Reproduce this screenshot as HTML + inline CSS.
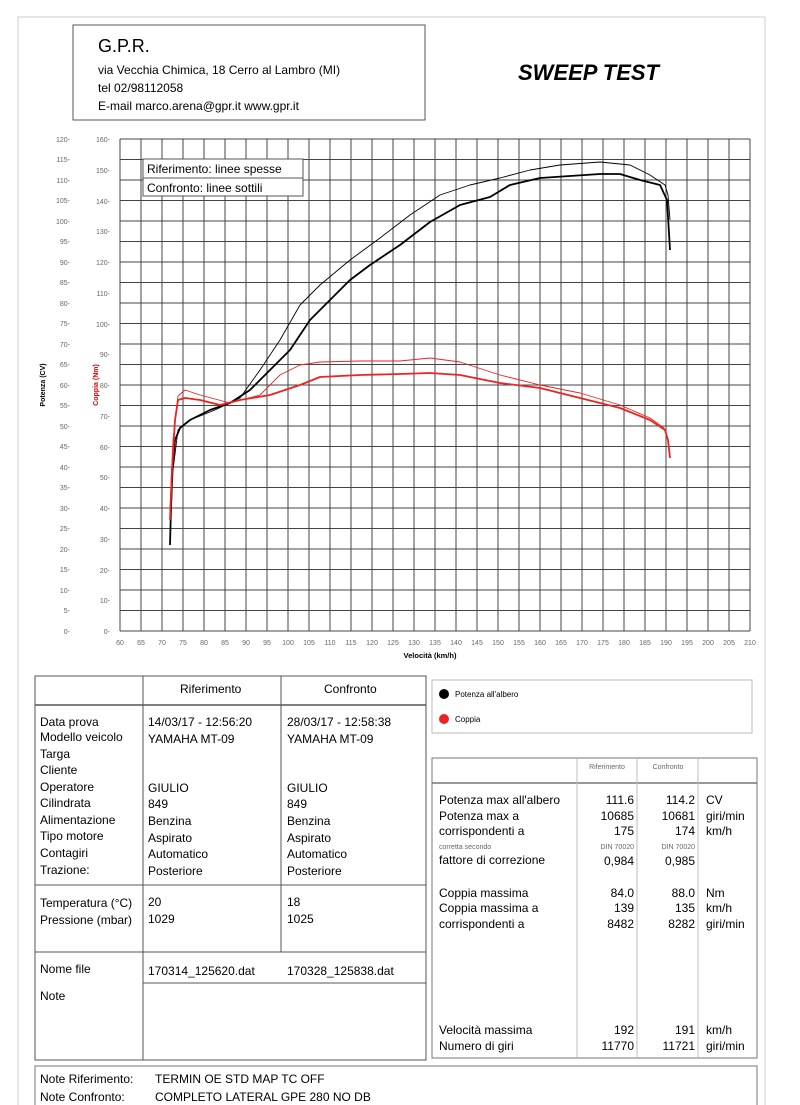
<!DOCTYPE html>
<html><head><meta charset="utf-8"><style>
body{margin:0;background:#fff;}
svg{display:block;font-family:"Liberation Sans","DejaVu Sans",sans-serif;}
.t{font-size:12px;fill:#000;}
.tk{font-size:7px;fill:#666;}
</style></head><body>
<svg width="800" height="1105" viewBox="0 0 800 1105" xmlns="http://www.w3.org/2000/svg">
<rect x="18" y="17" width="747" height="1100" fill="none" stroke="#ccc"/>
<!-- header -->
<rect x="73" y="25" width="352" height="95" fill="#fff" stroke="#555"/>
<text x="98" y="52" font-size="18" fill="#000">G.P.R.</text>
<text x="98" y="74" class="t" font-size="11">via Vecchia Chimica, 18 Cerro al Lambro (MI)</text>
<text x="98" y="92" class="t" font-size="11">tel 02/98112058</text>
<text x="98" y="110" class="t" font-size="11">E-mail marco.arena@gpr.it  www.gpr.it</text>
<text x="518" y="80" font-size="22" font-weight="bold" font-style="italic" fill="#000">SWEEP TEST</text>
<!-- grid -->
<g stroke="#444" stroke-width="1">
<path id="g" d="
M120 139H750M120 159.5H750M120 180H750M120 200.5H750M120 221H750M120 241.5H750M120 262H750M120 282.5H750M120 303H750M120 323.5H750M120 344H750M120 364.5H750M120 385H750M120 405.5H750M120 426H750M120 446.5H750M120 467H750M120 487.5H750M120 508H750M120 528.5H750M120 549H750M120 569.5H750M120 590H750M120 610.5H750M120 631H750
M120 139V631M141 139V631M162 139V631M183 139V631M204 139V631M225 139V631M246 139V631M267 139V631M288 139V631M309 139V631M330 139V631M351 139V631M372 139V631M393 139V631M414 139V631M435 139V631M456 139V631M477 139V631M498 139V631M519 139V631M540 139V631M561 139V631M582 139V631M603 139V631M624 139V631M645 139V631M666 139V631M687 139V631M708 139V631M729 139V631M750 139V631"/>
</g>
<!-- left labels -->
<g class="tk" text-anchor="end">
<text x="70" y="142">120-</text><text x="70" y="162">115-</text><text x="70" y="183">110-</text><text x="70" y="203">105-</text><text x="70" y="224">100-</text><text x="70" y="244">95-</text><text x="70" y="265">90-</text><text x="70" y="285">85-</text><text x="70" y="306">80-</text><text x="70" y="326">75-</text><text x="70" y="347">70-</text><text x="70" y="367">65-</text><text x="70" y="388">60-</text><text x="70" y="408">55-</text><text x="70" y="429">50-</text><text x="70" y="449">45-</text><text x="70" y="470">40-</text><text x="70" y="490">35-</text><text x="70" y="511">30-</text><text x="70" y="531">25-</text><text x="70" y="552">20-</text><text x="70" y="572">15-</text><text x="70" y="593">10-</text><text x="70" y="613">5-</text><text x="70" y="634">0-</text>
<text x="110" y="142">160-</text><text x="110" y="173">150-</text><text x="110" y="204">140-</text><text x="110" y="234">130-</text><text x="110" y="265">120-</text><text x="110" y="296">110-</text><text x="110" y="327">100-</text><text x="110" y="357">90-</text><text x="110" y="388">80-</text><text x="110" y="419">70-</text><text x="110" y="450">60-</text><text x="110" y="480">50-</text><text x="110" y="511">40-</text><text x="110" y="542">30-</text><text x="110" y="573">20-</text><text x="110" y="603">10-</text><text x="110" y="634">0-</text>
</g>
<g class="tk" text-anchor="middle">
<text x="120" y="645">60</text><text x="141" y="645">65</text><text x="162" y="645">70</text><text x="183" y="645">75</text><text x="204" y="645">80</text><text x="225" y="645">85</text><text x="246" y="645">90</text><text x="267" y="645">95</text><text x="288" y="645">100</text><text x="309" y="645">105</text><text x="330" y="645">110</text><text x="351" y="645">115</text><text x="372" y="645">120</text><text x="393" y="645">125</text><text x="414" y="645">130</text><text x="435" y="645">135</text><text x="456" y="645">140</text><text x="477" y="645">145</text><text x="498" y="645">150</text><text x="519" y="645">155</text><text x="540" y="645">160</text><text x="561" y="645">165</text><text x="582" y="645">170</text><text x="603" y="645">175</text><text x="624" y="645">180</text><text x="645" y="645">185</text><text x="666" y="645">190</text><text x="687" y="645">195</text><text x="708" y="645">200</text><text x="729" y="645">205</text><text x="750" y="645">210</text>
<text x="430" y="658" font-size="7.5" font-weight="bold" fill="#000">Velocità (km/h)</text>
</g>
<text transform="translate(45,385) rotate(-90)" text-anchor="middle" font-size="7" font-weight="bold" fill="#000">Potenza (CV)</text>
<text transform="translate(98,385) rotate(-90)" text-anchor="middle" font-size="7" font-weight="bold" fill="#d00">Coppia (Nm)</text>
<!-- legend box -->
<rect x="143" y="159" width="160" height="37" fill="#fff" stroke="#555"/>
<line x1="143" y1="178" x2="303" y2="178" stroke="#555"/>
<text x="147" y="173" class="t">Riferimento: linee spesse</text>
<text x="147" y="192" class="t">Confronto: linee sottili</text>
<!-- curves -->
<g fill="none" stroke-linejoin="round">
<polyline stroke="#000" stroke-width="0.9" points="170,540 173,470 178,430 190,420 215,410 240,398 260,370 280,340 300,305 320,285 350,260 380,238 410,215 440,195 470,185 500,178 530,170 560,165 600,162 630,165 650,175 665,185 668,195 670,220"/>
<polyline stroke="#000" stroke-width="1.8" points="170,545 172,470 175,440 180,428 190,420 210,410 230,403 250,390 270,370 290,350 310,320 330,300 350,280 370,265 400,245 430,222 460,205 490,197 510,185 540,178 570,176 600,174 620,174 640,180 660,185 667,200 670,250"/>
<polyline stroke="#e22" stroke-width="0.9" points="170,510 173,440 178,396 185,390 200,395 230,403 260,395 280,375 300,365 320,362 360,361 400,361 430,358 460,362 500,375 540,385 580,393 620,405 650,418 664,428 668,440 670,455"/>
<polyline stroke="#e22" stroke-width="1.8" points="170,520 172,470 175,420 178,400 185,398 200,400 220,405 240,400 270,395 300,385 320,377 360,375 400,374 430,373 460,375 500,383 540,388 580,398 620,408 650,420 665,430 668,440 670,458"/>
</g>
<!-- left table -->
<g stroke="#555" fill="none">
<rect x="35" y="676" width="391" height="384"/>
<line x1="35" y1="705" x2="426" y2="705" stroke-width="1.5"/>
<line x1="143" y1="676" x2="143" y2="1060"/>
<line x1="281" y1="676" x2="281" y2="885" />
<line x1="35" y1="885" x2="426" y2="885"/>
<line x1="281" y1="885" x2="281" y2="952"/>
<line x1="35" y1="952" x2="426" y2="952"/>
<line x1="143" y1="983" x2="426" y2="983"/>
</g>
<g class="t">
<text x="180" y="693">Riferimento</text><text x="324" y="693">Confronto</text>
<text x="40" y="726">Data prova</text><text x="40" y="741">Modello veicolo</text><text x="40" y="758">Targa</text><text x="40" y="774">Cliente</text><text x="40" y="791">Operatore</text><text x="40" y="807">Cilindrata</text><text x="40" y="824">Alimentazione</text><text x="40" y="840">Tipo motore</text><text x="40" y="857">Contagiri</text><text x="40" y="874">Trazione:</text>
<text x="148" y="726">14/03/17 - 12:56:20</text><text x="148" y="743">YAMAHA MT-09</text><text x="148" y="792">GIULIO</text><text x="148" y="808">849</text><text x="148" y="825">Benzina</text><text x="148" y="842">Aspirato</text><text x="148" y="858">Automatico</text><text x="148" y="875">Posteriore</text>
<text x="287" y="726">28/03/17 - 12:58:38</text><text x="287" y="743">YAMAHA MT-09</text><text x="287" y="792">GIULIO</text><text x="287" y="808">849</text><text x="287" y="825">Benzina</text><text x="287" y="842">Aspirato</text><text x="287" y="858">Automatico</text><text x="287" y="875">Posteriore</text>
<text x="40" y="907">Temperatura (°C)</text><text x="40" y="924">Pressione (mbar)</text>
<text x="148" y="906">20</text><text x="148" y="923">1029</text><text x="287" y="906">18</text><text x="287" y="923">1025</text>
<text x="40" y="973">Nome file</text><text x="148" y="975">170314_125620.dat</text><text x="287" y="975">170328_125838.dat</text>
<text x="40" y="1000">Note</text>
</g>
<!-- legend right -->
<rect x="432" y="680" width="320" height="53" fill="none" stroke="#bbb"/>
<circle cx="444" cy="694" r="5" fill="#000"/><text x="455" y="697" font-size="8" fill="#000">Potenza all'albero</text>
<circle cx="444" cy="719" r="5" fill="#e22"/><text x="455" y="722" font-size="8" fill="#000">Coppia</text>
<!-- stats table -->
<g stroke="#777" fill="none">
<rect x="432" y="758" width="325" height="300"/>
<line x1="432" y1="783" x2="757" y2="783" stroke-width="1.5"/>
<line x1="577" y1="758" x2="577" y2="1058" stroke="#bbb"/>
<line x1="637" y1="758" x2="637" y2="1058" stroke="#bbb"/>
<line x1="698" y1="758" x2="698" y2="1058" stroke="#bbb"/>
</g>
<g font-size="7" fill="#666" text-anchor="middle"><text x="607" y="769">Riferimento</text><text x="668" y="769">Confronto</text></g>
<g class="t">
<text x="439" y="804">Potenza max all'albero</text><text x="439" y="820">Potenza max a</text><text x="439" y="835">corrispondenti a</text>
<text x="439" y="849" font-size="7" fill="#666">corretta secondo</text>
<text x="439" y="864">fattore di correzione</text>
<text x="439" y="897">Coppia massima</text><text x="439" y="912">Coppia massima a</text><text x="439" y="928">corrispondenti a</text>
<text x="439" y="1034">Velocità massima</text><text x="439" y="1050">Numero di giri</text>
<text x="706" y="804">CV</text><text x="706" y="820">giri/min</text><text x="706" y="835">km/h</text>
<text x="706" y="897">Nm</text><text x="706" y="912">km/h</text><text x="706" y="928">giri/min</text>
<text x="706" y="1034">km/h</text><text x="706" y="1050">giri/min</text>
</g>
<g class="t" text-anchor="end">
<text x="634" y="804">111.6</text><text x="634" y="820">10685</text><text x="634" y="835">175</text><text x="634" y="849" font-size="7" fill="#666">DIN 70020</text><text x="634" y="865">0,984</text>
<text x="634" y="897">84.0</text><text x="634" y="912">139</text><text x="634" y="928">8482</text><text x="634" y="1034">192</text><text x="634" y="1050">11770</text>
<text x="695" y="804">114.2</text><text x="695" y="820">10681</text><text x="695" y="835">174</text><text x="695" y="849" font-size="7" fill="#666">DIN 70020</text><text x="695" y="865">0,985</text>
<text x="695" y="897">88.0</text><text x="695" y="912">135</text><text x="695" y="928">8282</text><text x="695" y="1034">191</text><text x="695" y="1050">11721</text>
</g>
<!-- notes -->
<rect x="35" y="1066" width="722" height="45" fill="none" stroke="#777"/>
<g class="t"><text x="40" y="1083">Note Riferimento:</text><text x="155" y="1083">TERMIN OE STD MAP TC OFF</text>
<text x="40" y="1101">Note Confronto:</text><text x="155" y="1101">COMPLETO LATERAL GPE 280 NO DB</text></g>
</svg>
</body></html>
